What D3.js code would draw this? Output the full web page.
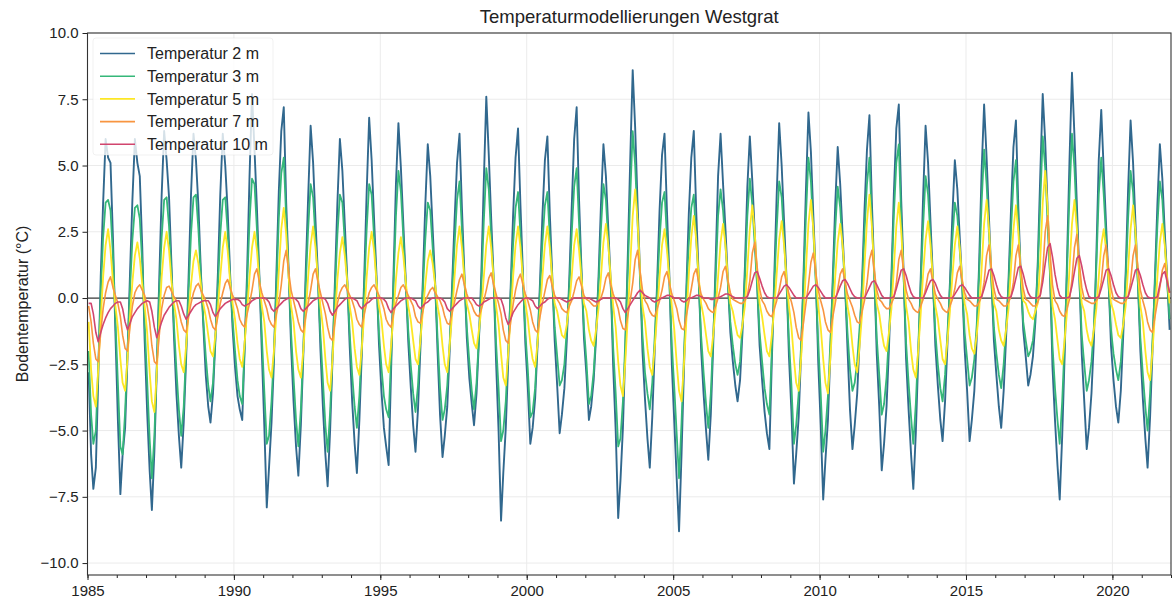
<!DOCTYPE html>
<html>
<head>
<meta charset="utf-8">
<script src="https://cdn.jsdelivr.net/npm/d3@7"></script>
<style>
  html, body { margin: 0; padding: 0; background: #ffffff; }
  svg { display: block; font-family: "Liberation Sans", Arial, Helvetica, sans-serif; }
</style>
</head>
<body>
<svg id="chart" width="1173" height="605"></svg>
<script>
// Monthly ground temperatures (°C), one row per year from 1985 to 2021, Jan..Dec.
const firstYear = 1985;

const temp2m = [
  -2.8, -5.9, -7.2, -6.4, -3.0, 0.8, 3.6, 6.0, 5.3, 5.1, 2.2, -1.3,   // 1985
  -4.6, -7.4, -5.9, -4.9, -2.2, 0.9, 3.7, 6.0, 5.1, 4.6, 1.9, -1.6,   // 1986
  -4.3, -6.5, -8.0, -5.8, -2.7, 0.7, 3.9, 6.3, 5.2, 3.8, 1.2, -1.4,   // 1987
  -3.6, -5.2, -6.4, -4.7, -2.3, 0.8, 3.9, 6.2, 5.2, 3.5, 1.0, -1.0,   // 1988
  -2.9, -4.1, -4.7, -3.6, -1.6, 0.9, 3.9, 6.2, 5.0, 3.3, 0.9, -1.1,   // 1989
  -2.6, -3.7, -4.2, -4.6, -1.9, 1.0, 4.6, 7.7, 5.6, 3.4, 0.8, -2.0,   // 1990
  -4.8, -7.9, -6.4, -4.7, -2.4, 0.9, 4.0, 6.3, 7.2, 3.6, 1.0, -1.8,   // 1991
  -3.9, -5.6, -6.7, -4.8, -2.2, 1.0, 3.8, 6.5, 5.1, 2.9, 0.8, -1.9,   // 1992
  -4.1, -5.9, -7.1, -5.0, -2.3, 0.7, 3.6, 6.0, 4.8, 2.8, 0.7, -1.8,   // 1993
  -3.9, -5.5, -6.6, -4.6, -2.1, 0.8, 4.0, 6.8, 5.2, 3.0, 0.8, -1.7,   // 1994
  -3.5, -4.9, -5.6, -6.3, -2.8, 0.9, 4.3, 6.6, 4.9, 2.8, 0.6, -1.6,   // 1995
  -3.3, -4.8, -5.8, -4.2, -1.9, 0.7, 3.5, 5.8, 4.6, 2.6, 0.6, -2.0,   // 1996
  -4.4, -6.0, -5.2, -4.1, -2.0, 0.5, 2.9, 5.1, 6.2, 3.4, 0.9, -1.5,   // 1997
  -3.0, -4.0, -4.8, -3.6, -1.6, 1.0, 4.4, 7.6, 5.4, 3.0, 0.7, -2.4,   // 1998
  -5.0, -8.4, -6.6, -4.9, -2.4, 0.4, 3.1, 5.3, 6.4, 3.5, 0.9, -1.7,   // 1999
  -3.4, -5.5, -4.9, -3.8, -1.8, 0.6, 3.1, 5.2, 6.1, 3.2, 0.8, -1.6,   // 2000
  -3.3, -5.1, -4.4, -3.4, -1.6, 0.7, 3.4, 6.0, 7.2, 3.7, 1.0, -1.5,   // 2001
  -2.9, -4.6, -4.1, -3.1, -1.5, 0.8, 3.5, 5.8, 4.6, 2.6, 0.5, -2.6,   // 2002
  -5.0, -8.3, -6.9, -4.9, -1.9, 1.6, 5.2, 8.6, 6.4, 3.5, 0.9, -2.0,   // 2003
  -3.8, -5.3, -6.4, -4.5, -2.0, 0.6, 3.3, 5.4, 6.2, 3.3, 0.8, -2.5,   // 2004
  -4.7, -6.9, -8.8, -5.9, -2.7, 0.4, 3.2, 5.3, 6.3, 3.3, 0.8, -1.9,   // 2005
  -3.6, -5.0, -6.1, -4.4, -1.8, 1.4, 4.6, 6.2, 4.3, 2.6, 0.6, -1.3,   // 2006
  -2.4, -3.3, -3.9, -3.1, -1.3, 1.2, 4.2, 6.1, 4.4, 2.5, 0.5, -1.8,   // 2007
  -3.1, -4.3, -5.1, -5.7, -2.4, 0.8, 3.9, 6.6, 5.0, 2.9, 0.7, -2.2,   // 2008
  -4.3, -7.0, -5.9, -4.5, -2.1, 0.9, 4.1, 7.0, 5.5, 3.1, 0.8, -2.4,   // 2009
  -4.8, -7.6, -6.1, -4.6, -2.1, 0.8, 3.5, 5.7, 4.3, 2.4, 0.5, -1.9,   // 2010
  -4.2, -5.7, -4.8, -3.6, -1.6, 0.6, 3.3, 5.6, 6.9, 3.6, 0.9, -2.1,   // 2011
  -4.1, -6.5, -5.5, -4.1, -1.9, 0.8, 3.9, 6.4, 7.3, 3.7, 0.9, -2.3,   // 2012
  -4.2, -5.9, -7.2, -5.1, -2.3, 0.7, 3.8, 6.5, 5.1, 2.9, 0.7, -1.8,   // 2013
  -3.3, -4.6, -5.4, -3.9, -1.7, 0.6, 3.1, 5.2, 4.1, 2.3, 0.5, -1.9,   // 2014
  -3.5, -5.4, -4.6, -3.5, -1.5, 1.4, 4.8, 7.3, 5.3, 3.0, 0.7, -1.6,   // 2015
  -2.9, -4.1, -4.9, -3.5, -1.5, 0.7, 3.3, 5.7, 6.7, 3.4, 0.8, -1.2,   // 2016
  -2.2, -3.3, -2.9, -2.2, -0.9, 1.4, 4.6, 7.7, 5.9, 3.4, 0.9, -2.6,   // 2017
  -4.6, -6.3, -7.6, -5.2, -2.2, 1.5, 5.2, 8.5, 6.1, 3.5, 0.9, -2.1,   // 2018
  -3.9, -5.7, -4.9, -3.6, -1.6, 1.6, 5.2, 7.1, 4.8, 2.7, 0.6, -1.8,   // 2019
  -3.1, -4.1, -4.7, -3.5, -1.4, 1.0, 4.1, 6.7, 5.1, 2.8, 0.6, -2.0,   // 2020
  -3.8, -5.3, -6.4, -4.5, -2.0, 0.8, 3.5, 5.8, 4.5, 2.5, 0.7, -1.2    // 2021
];

const temp3m = [
  -2.0, -4.4, -5.5, -5.0, -2.6, 0.2, 2.3, 3.6, 3.7, 3.3, 1.6, -0.8,   // 1985
  -3.2, -5.6, -5.9, -4.3, -2.0, 0.3, 2.2, 3.4, 3.5, 3.0, 1.3, -1.0,   // 1986
  -3.1, -5.3, -6.8, -5.2, -2.6, 0.2, 2.3, 3.7, 3.8, 2.7, 0.9, -1.0,   // 1987
  -2.7, -4.2, -5.2, -4.1, -2.0, 0.3, 2.4, 3.8, 3.9, 2.6, 0.8, -0.8,   // 1988
  -2.2, -3.3, -3.9, -3.2, -1.5, 0.4, 2.4, 3.7, 3.8, 2.5, 0.7, -0.8,   // 1989
  -2.0, -3.1, -3.7, -4.0, -1.8, 0.5, 2.9, 4.5, 4.3, 2.6, 0.7, -1.4,   // 1990
  -3.5, -5.5, -5.2, -3.9, -2.1, 0.4, 3.0, 4.7, 5.3, 3.0, 0.9, -1.3,   // 1991
  -3.0, -4.6, -5.6, -4.2, -2.0, 0.5, 2.6, 4.3, 3.8, 2.2, 0.6, -1.4,   // 1992
  -3.1, -4.8, -5.8, -4.3, -2.1, 0.3, 2.4, 3.9, 3.6, 2.1, 0.6, -1.3,   // 1993
  -2.9, -4.1, -4.9, -3.7, -1.8, 0.4, 2.6, 4.3, 3.9, 2.3, 0.6, -1.3,   // 1994
  -2.6, -3.7, -4.2, -4.5, -2.3, 0.5, 3.1, 4.8, 4.0, 2.3, 0.5, -1.2,   // 1995
  -2.5, -3.6, -4.3, -3.3, -1.6, 0.3, 2.2, 3.6, 3.3, 1.9, 0.5, -1.5,   // 1996
  -3.4, -4.6, -4.2, -3.3, -1.7, 0.2, 2.0, 3.7, 4.4, 2.6, 0.7, -1.1,   // 1997
  -2.4, -3.5, -4.2, -3.2, -1.5, 0.5, 2.9, 4.9, 4.1, 2.3, 0.6, -1.7,   // 1998
  -3.4, -5.4, -5.0, -3.9, -2.0, 0.2, 2.0, 3.4, 4.0, 2.4, 0.7, -1.3,   // 1999
  -2.7, -4.5, -4.3, -3.4, -1.6, 0.3, 2.1, 3.5, 4.0, 2.3, 0.6, -1.1,   // 2000
  -2.2, -3.3, -3.1, -2.5, -1.2, 0.4, 2.4, 4.2, 4.9, 2.8, 0.8, -1.1,   // 2001
  -2.4, -4.0, -3.7, -2.8, -1.3, 0.5, 2.6, 4.3, 3.7, 2.1, 0.4, -1.9,   // 2002
  -3.6, -5.6, -5.3, -3.9, -1.6, 1.0, 3.8, 6.3, 5.0, 2.8, 0.7, -1.4,   // 2003
  -2.8, -3.6, -4.2, -3.2, -1.5, 0.3, 2.2, 3.6, 4.0, 2.3, 0.6, -1.8,   // 2004
  -3.4, -5.2, -6.8, -4.7, -2.2, 0.2, 2.1, 3.4, 3.9, 2.2, 0.6, -1.4,   // 2005
  -2.8, -4.0, -4.9, -3.6, -1.5, 0.8, 3.1, 4.1, 3.3, 2.0, 0.5, -0.9,   // 2006
  -1.8, -2.5, -2.9, -2.4, -1.0, 0.8, 3.1, 4.5, 3.5, 2.0, 0.4, -1.3,   // 2007
  -2.4, -3.4, -4.0, -4.4, -2.0, 0.5, 2.6, 4.4, 3.8, 2.2, 0.5, -1.6,   // 2008
  -3.3, -5.5, -4.8, -3.6, -1.8, 0.6, 3.1, 5.3, 4.4, 2.5, 0.6, -1.7,   // 2009
  -3.6, -5.8, -5.0, -3.7, -1.7, 0.5, 2.6, 4.2, 3.4, 1.9, 0.4, -1.3,   // 2010
  -2.7, -3.5, -3.2, -2.4, -1.1, 0.4, 2.5, 4.3, 5.3, 2.9, 0.7, -1.5,   // 2011
  -2.9, -4.4, -4.0, -3.0, -1.4, 0.6, 3.1, 5.1, 5.8, 3.0, 0.7, -1.7,   // 2012
  -3.2, -4.5, -5.5, -4.0, -1.9, 0.5, 2.7, 4.6, 3.9, 2.3, 0.5, -1.3,   // 2013
  -2.5, -3.4, -3.9, -2.9, -1.3, 0.4, 2.2, 3.6, 3.1, 1.8, 0.4, -1.3,   // 2014
  -2.3, -3.3, -3.0, -2.3, -1.0, 1.0, 3.6, 5.6, 4.3, 2.4, 0.6, -1.1,   // 2015
  -2.1, -2.9, -3.4, -2.5, -1.1, 0.5, 2.5, 4.4, 5.2, 2.8, 0.7, -0.9,   // 2016
  -1.6, -2.2, -2.0, -1.6, -0.7, 1.1, 3.6, 6.1, 4.9, 2.8, 0.8, -1.8,   // 2017
  -3.4, -4.6, -5.5, -3.9, -1.7, 1.1, 3.9, 6.2, 4.9, 2.8, 0.7, -1.4,   // 2018
  -2.5, -3.5, -3.1, -2.4, -1.1, 1.2, 3.9, 5.3, 3.9, 2.2, 0.5, -1.2,   // 2019
  -2.1, -2.7, -3.1, -2.4, -1.0, 0.7, 3.0, 4.8, 4.0, 2.2, 0.5, -1.5,   // 2020
  -2.9, -4.1, -5.0, -3.6, -1.6, 0.6, 2.7, 4.4, 3.7, 2.1, 0.6, -0.8    // 2021
];

const temp5m = [
  -0.9, -2.7, -3.7, -4.1, -2.7, -0.8, 0.8, 2.0, 2.6, 1.8, 0.6, -0.3,   // 1985
  -1.1, -2.3, -3.2, -3.5, -2.3, -0.7, 0.6, 1.6, 2.1, 1.5, 0.5, -0.3,   // 1986
  -1.3, -2.8, -3.9, -4.3, -2.8, -0.9, 0.8, 1.9, 2.5, 1.8, 0.6, -0.2,   // 1987
  -0.8, -1.8, -2.5, -2.8, -1.8, -0.6, 0.5, 1.4, 1.8, 1.3, 0.5, -0.2,   // 1988
  -0.7, -1.4, -2.0, -2.2, -1.4, -0.4, 0.8, 1.9, 2.5, 1.8, 0.6, -0.2,   // 1989
  -0.8, -1.7, -2.3, -2.6, -1.7, -0.5, 0.8, 1.9, 2.5, 1.8, 0.6, -0.3,   // 1990
  -0.9, -2.0, -2.7, -3.0, -2.0, -0.6, 1.0, 2.6, 3.4, 2.4, 0.8, -0.3,   // 1991
  -0.9, -2.0, -2.7, -3.0, -2.0, -0.6, 0.8, 2.0, 2.7, 1.9, 0.7, -0.3,   // 1992
  -1.1, -2.3, -3.2, -3.5, -2.3, -0.7, 0.7, 1.7, 2.3, 1.6, 0.6, -0.3,   // 1993
  -0.9, -1.9, -2.6, -2.9, -1.9, -0.6, 0.8, 1.9, 2.5, 1.8, 0.6, -0.3,   // 1994
  -0.8, -1.8, -2.5, -2.8, -1.8, -0.6, 0.7, 1.7, 2.3, 1.6, 0.6, -0.3,   // 1995
  -0.8, -1.6, -2.3, -2.5, -1.6, -0.5, 0.5, 1.4, 1.8, 1.3, 0.5, -0.3,   // 1996
  -0.8, -1.8, -2.5, -2.8, -1.8, -0.6, 0.8, 2.0, 2.7, 1.9, 0.7, -0.2,   // 1997
  -0.6, -1.2, -1.7, -1.9, -1.2, -0.4, 0.8, 2.0, 2.7, 1.9, 0.7, -0.3,   // 1998
  -1.0, -2.1, -3.0, -3.3, -2.1, -0.7, 0.8, 2.0, 2.7, 1.9, 0.7, -0.2,   // 1999
  -0.8, -1.7, -2.3, -2.6, -1.7, -0.5, 0.8, 2.0, 2.7, 1.9, 0.7, -0.2,   // 2000
  -0.5, -1.0, -1.4, -1.5, -1.0, -0.3, 0.8, 2.0, 2.6, 1.8, 0.7, -0.2,   // 2001
  -0.5, -1.2, -1.6, -1.8, -1.2, -0.4, 0.8, 2.1, 2.8, 2.0, 0.7, -0.3,   // 2002
  -1.1, -2.4, -3.3, -3.7, -2.4, -0.7, 1.2, 3.1, 4.1, 2.9, 1.0, -0.3,   // 2003
  -0.9, -1.9, -2.6, -2.9, -1.9, -0.6, 0.8, 2.0, 2.6, 1.8, 0.7, -0.3,   // 2004
  -1.2, -2.5, -3.5, -3.9, -2.5, -0.8, 0.9, 2.3, 3.1, 2.2, 0.8, -0.2,   // 2005
  -0.7, -1.4, -2.0, -2.2, -1.4, -0.4, 0.8, 2.1, 2.8, 2.0, 0.7, -0.2,   // 2006
  -0.5, -1.0, -1.4, -1.5, -1.0, -0.3, 1.1, 2.6, 3.5, 2.5, 0.9, -0.2,   // 2007
  -0.7, -1.4, -2.0, -2.2, -1.4, -0.4, 0.9, 2.2, 2.9, 2.0, 0.7, -0.3,   // 2008
  -1.1, -2.3, -3.2, -3.5, -2.3, -0.7, 1.1, 2.8, 3.7, 2.6, 0.9, -0.3,   // 2009
  -1.1, -2.3, -3.2, -3.6, -2.3, -0.7, 0.8, 2.1, 2.8, 2.0, 0.7, -0.3,   // 2010
  -0.8, -1.8, -2.5, -2.8, -1.8, -0.6, 1.2, 2.9, 3.9, 2.7, 1.0, -0.2,   // 2011
  -0.6, -1.3, -1.8, -2.0, -1.3, -0.4, 1.1, 2.7, 3.6, 2.5, 0.9, -0.3,   // 2012
  -0.9, -2.0, -2.7, -3.0, -2.0, -0.6, 0.9, 2.2, 2.9, 2.0, 0.7, -0.3,   // 2013
  -0.8, -1.6, -2.3, -2.5, -1.6, -0.5, 0.8, 2.0, 2.7, 1.9, 0.7, -0.2,   // 2014
  -0.6, -1.4, -1.9, -2.1, -1.4, -0.4, 1.1, 2.8, 3.7, 2.6, 0.9, -0.2,   // 2015
  -0.5, -1.2, -1.6, -1.8, -1.2, -0.4, 1.1, 2.6, 3.5, 2.5, 0.9, -0.1,   // 2016
  -0.2, -0.5, -0.7, -0.8, -0.5, -0.2, 1.4, 3.6, 4.8, 3.4, 1.2, -0.3,   // 2017
  -0.8, -1.6, -2.3, -2.5, -1.6, -0.5, 1.1, 2.8, 3.7, 2.6, 0.9, -0.2,   // 2018
  -0.5, -1.2, -1.6, -1.8, -1.2, -0.4, 0.8, 2.0, 2.6, 1.8, 0.7, -0.2,   // 2019
  -0.5, -1.0, -1.4, -1.5, -1.0, -0.3, 1.1, 2.6, 3.5, 2.5, 0.9, -0.3,   // 2020
  -0.9, -2.0, -2.8, -3.1, -2.0, -0.6, 0.8, 2.1, 2.8, 2.0, 0.7, -0.2    // 2021
];

const temp7m = [
  -0.3, -0.9, -1.7, -2.3, -2.4, -1.3, -0.4, 0.2, 0.6, 0.8, 0.4, 0.1,          // 1985
  -0.2, -0.7, -1.4, -1.9, -2.0, -1.1, -0.3, 0.2, 0.4, 0.5, 0.3, 0.1,          // 1986
  -0.3, -0.9, -1.8, -2.4, -2.5, -1.4, -0.4, 0.1, 0.4, 0.45, 0.25, 0.05,       // 1987
  -0.1, -0.5, -0.9, -1.2, -1.3, -0.7, -0.2, 0.2, 0.45, 0.55, 0.3, 0.1,        // 1988
  -0.1, -0.4, -0.8, -1.1, -1.2, -0.7, -0.2, 0.2, 0.55, 0.7, 0.4, 0.1,         // 1989
  -0.1, -0.4, -0.8, -1.0, -1.1, -0.6, -0.2, 0.3, 0.9, 1.1, 0.6, 0.2,          // 1990
  -0.1, -0.4, -0.8, -1.0, -1.1, -0.6, -0.2, 0.5, 1.4, 1.8, 1.0, 0.3,          // 1991
  -0.1, -0.5, -0.9, -1.2, -1.3, -0.7, -0.2, 0.3, 0.9, 1.1, 0.6, 0.2,          // 1992
  -0.2, -0.6, -1.1, -1.5, -1.6, -0.9, -0.2, 0.2, 0.4, 0.5, 0.3, 0.1,          // 1993
  -0.1, -0.4, -0.8, -1.0, -1.1, -0.6, -0.2, 0.2, 0.4, 0.5, 0.3, 0.1,          // 1994
  -0.1, -0.4, -0.8, -1.0, -1.1, -0.6, -0.2, 0.1, 0.4, 0.5, 0.3, 0.1,          // 1995
  -0.1, -0.3, -0.7, -0.9, -0.95, -0.5, -0.1, 0.1, 0.3, 0.4, 0.2, 0.05,        // 1996
  -0.1, -0.35, -0.7, -0.95, -1.0, -0.55, -0.15, 0.3, 0.7, 0.9, 0.5, 0.15,     // 1997
  -0.1, -0.25, -0.5, -0.65, -0.7, -0.4, -0.1, 0.3, 0.75, 0.95, 0.5, 0.15,     // 1998
  -0.2, -0.6, -1.2, -1.6, -1.7, -0.9, -0.25, 0.3, 0.7, 0.9, 0.5, 0.15,        // 1999
  -0.1, -0.45, -0.9, -1.2, -1.3, -0.7, -0.2, 0.25, 0.7, 0.85, 0.45, 0.1,      // 2000
  -0.05, -0.2, -0.4, -0.5, -0.55, -0.3, -0.1, 0.25, 0.65, 0.8, 0.45, 0.1,     // 2001
  -0.05, -0.1, -0.2, -0.3, -0.3, -0.15, 0.0, 0.3, 0.75, 0.95, 0.5, 0.15,      // 2002
  -0.1, -0.4, -0.85, -1.15, -1.2, -0.65, -0.1, 0.55, 1.45, 1.8, 1.0, 0.3,     // 2003
  -0.1, -0.25, -0.5, -0.65, -0.7, -0.4, -0.1, 0.3, 0.8, 1.0, 0.55, 0.15,      // 2004
  -0.1, -0.4, -0.85, -1.15, -1.2, -0.65, -0.15, 0.35, 0.9, 1.1, 0.6, 0.15,    // 2005
  -0.05, -0.2, -0.4, -0.5, -0.55, -0.3, 0.0, 0.4, 1.0, 1.2, 0.65, 0.2,        // 2006
  -0.05, -0.1, -0.15, -0.2, -0.2, -0.1, 0.1, 0.65, 1.7, 2.1, 1.15, 0.35,      // 2007
  -0.1, -0.25, -0.5, -0.65, -0.7, -0.4, -0.1, 0.3, 0.8, 1.0, 0.55, 0.15,      // 2008
  -0.15, -0.55, -1.1, -1.5, -1.6, -0.9, -0.2, 0.5, 1.35, 1.7, 0.95, 0.3,      // 2009
  -0.1, -0.45, -0.9, -1.2, -1.3, -0.7, -0.2, 0.35, 0.9, 1.1, 0.6, 0.15,       // 2010
  -0.1, -0.35, -0.65, -0.9, -0.95, -0.5, -0.1, 0.55, 1.45, 1.8, 1.0, 0.3,     // 2011
  -0.05, -0.15, -0.3, -0.4, -0.4, -0.2, 0.0, 0.55, 1.45, 1.8, 1.0, 0.3,       // 2012
  -0.05, -0.2, -0.4, -0.5, -0.55, -0.3, -0.05, 0.35, 0.9, 1.1, 0.6, 0.15,     // 2013
  -0.05, -0.2, -0.4, -0.5, -0.55, -0.3, -0.05, 0.35, 0.95, 1.2, 0.65, 0.2,    // 2014
  -0.05, -0.1, -0.2, -0.3, -0.3, -0.15, 0.05, 0.6, 1.6, 2.0, 1.1, 0.35,       // 2015
  -0.05, -0.1, -0.2, -0.3, -0.3, -0.15, 0.05, 0.6, 1.6, 2.0, 1.1, 0.35,       // 2016
  -0.05, -0.1, -0.2, -0.3, -0.3, -0.15, 0.1, 0.95, 2.5, 3.1, 1.7, 0.5,        // 2017
  -0.1, -0.25, -0.5, -0.65, -0.7, -0.4, -0.05, 0.7, 1.9, 2.4, 1.3, 0.4,       // 2018
  -0.05, -0.1, -0.15, -0.2, -0.2, -0.1, 0.05, 0.6, 1.6, 2.0, 1.1, 0.35,       // 2019
  -0.05, -0.1, -0.15, -0.2, -0.2, -0.1, 0.05, 0.6, 1.6, 2.0, 1.1, 0.3,        // 2020
  -0.1, -0.45, -0.9, -1.2, -1.3, -0.7, -0.15, 0.4, 1.05, 1.3, 0.7, 0.2        // 2021
];

const temp10m = [
  -0.2, -0.2, -0.6, -1.3, -1.65, -1.3, -1.0, -0.75, -0.55, -0.4, -0.3, -0.2,       // 1985
  -0.15, -0.15, -0.4, -0.9, -1.2, -0.95, -0.7, -0.55, -0.4, -0.3, -0.2, -0.15,     // 1986
  -0.1, -0.15, -0.5, -1.1, -1.5, -1.2, -0.9, -0.65, -0.5, -0.35, -0.25, -0.15,     // 1987
  -0.1, -0.1, -0.3, -0.6, -0.8, -0.65, -0.5, -0.35, -0.25, -0.2, -0.15, -0.1,      // 1988
  -0.1, -0.1, -0.25, -0.55, -0.7, -0.55, -0.4, -0.3, -0.2, -0.15, -0.1, -0.05,     // 1989
  -0.05, -0.05, -0.1, -0.25, -0.3, -0.25, -0.2, -0.1, -0.05, 0, 0, 0,              // 1990
  0, -0.05, -0.15, -0.4, -0.5, -0.4, -0.3, -0.2, -0.1, -0.05, 0, 0,                // 1991
  0, -0.05, -0.15, -0.4, -0.5, -0.4, -0.3, -0.2, -0.1, -0.05, 0, 0,                // 1992
  0, -0.05, -0.2, -0.5, -0.65, -0.5, -0.35, -0.25, -0.15, -0.05, 0, 0,             // 1993
  0, -0.05, -0.1, -0.3, -0.4, -0.3, -0.2, -0.15, -0.05, 0, 0, 0,                   // 1994
  0, -0.05, -0.15, -0.4, -0.55, -0.4, -0.3, -0.2, -0.1, -0.05, 0, 0,               // 1995
  0, -0.05, -0.1, -0.3, -0.4, -0.3, -0.2, -0.15, -0.05, 0, 0, 0,                   // 1996
  0, -0.05, -0.15, -0.4, -0.5, -0.4, -0.3, -0.2, -0.1, -0.05, 0, 0,                // 1997
  0, 0, -0.1, -0.25, -0.3, -0.25, -0.15, -0.1, -0.05, 0, 0, 0,                     // 1998
  0, -0.05, -0.3, -0.75, -1.0, -0.8, -0.55, -0.4, -0.25, -0.15, -0.05, 0,          // 1999
  0, -0.05, -0.1, -0.3, -0.4, -0.3, -0.2, -0.15, -0.05, 0, 0, 0,                   // 2000
  0, 0, -0.05, -0.1, -0.15, -0.1, -0.05, 0, 0, 0, 0, 0,                            // 2001
  0, 0, -0.05, -0.1, -0.15, -0.1, -0.05, 0, 0, 0, 0, 0,                            // 2002
  0, -0.05, -0.15, -0.4, -0.55, -0.4, -0.25, -0.1, 0.05, 0.2, 0.3, 0.2,            // 2003
  0.1, 0.05, 0, -0.1, -0.15, -0.1, -0.05, 0, 0.05, 0.1, 0.1, 0.05,                 // 2004
  0, 0, 0, -0.1, -0.15, -0.1, 0, 0, 0.05, 0.1, 0.1, 0.05,                          // 2005
  0, 0, 0, -0.05, -0.05, 0, 0, 0.05, 0.1, 0.15, 0.15, 0.1,                         // 2006
  0.05, 0, 0, 0, 0, 0, 0.05, 0.3, 0.65, 0.95, 1.0, 0.75,                           // 2007
  0.45, 0.2, 0.05, 0, 0, 0, 0, 0.15, 0.3, 0.45, 0.5, 0.4,                          // 2008
  0.25, 0.1, 0, 0, 0, 0, 0, 0.15, 0.3, 0.45, 0.5, 0.4,                             // 2009
  0.25, 0.1, 0, 0, 0, 0, 0, 0.2, 0.45, 0.65, 0.7, 0.55,                            // 2010
  0.35, 0.15, 0.05, 0, 0, 0, 0, 0.2, 0.4, 0.6, 0.65, 0.5,                          // 2011
  0.3, 0.1, 0, 0, 0, 0, 0.05, 0.35, 0.7, 1.05, 1.1, 0.85,                          // 2012
  0.5, 0.2, 0.05, 0, 0, 0, 0, 0.2, 0.45, 0.65, 0.7, 0.55,                          // 2013
  0.3, 0.1, 0, 0, 0, 0, 0, 0.15, 0.3, 0.45, 0.5, 0.4,                              // 2014
  0.25, 0.1, 0, 0, 0, 0, 0.05, 0.35, 0.7, 1.05, 1.1, 0.85,                         // 2015
  0.5, 0.2, 0.05, 0, 0, 0, 0.05, 0.35, 0.75, 1.15, 1.2, 0.9,                       // 2016
  0.5, 0.2, 0.05, 0, 0, 0, 0.1, 0.6, 1.3, 1.9, 2.05, 1.55,                         // 2017
  0.9, 0.4, 0.1, 0, 0, 0, 0.05, 0.45, 1.0, 1.5, 1.6, 1.2,                          // 2018
  0.7, 0.3, 0.05, 0, 0, 0, 0.05, 0.35, 0.7, 1.05, 1.1, 0.85,                       // 2019
  0.5, 0.2, 0.05, 0, 0, 0, 0.05, 0.35, 0.7, 1.05, 1.1, 0.85,                       // 2020
  0.5, 0.2, 0.05, 0, 0, 0, 0.05, 0.5, 0.9, 1.0, 0.6, 0.2                           // 2021
];

const seriesNames = ["Temperatur 2 m", "Temperatur 3 m", "Temperatur 5 m", "Temperatur 7 m", "Temperatur 10 m"];
const seriesValues = [temp2m, temp3m, temp5m, temp7m, temp10m];
const seriesColors = ["#31688e", "#35b779", "#fde725", "#f89540", "#d1456e"];
const seriesWidths = [1.9, 1.8, 1.8, 1.6, 1.6];

const yTickValues = [-10, -7.5, -5, -2.5, 0, 2.5, 5, 7.5, 10];
const xTickYears = [1985, 1990, 1995, 2000, 2005, 2010, 2015, 2020];

const chartTitle = "Temperaturmodellierungen Westgrat";
const yAxisLabel = "Bodentemperatur (°C)";

// ---- layout ----
const plot = { left: 87.5, right: 1171, top: 33, bottom: 575 };

const svg = d3.select("#chart");

const x = d3.scaleTime()
  .domain([new Date(1985, 0, 1), new Date(2022, 0, 1)])
  .range([plot.left, plot.right]);

const y = d3.scaleLinear()
  .domain([-10.45, 10])
  .range([plot.bottom, plot.top]);

// month index -> mid-month date
const dateAt = i => new Date(firstYear + Math.floor(i / 12), i % 12, 15);

// ---- grid ----
const grid = svg.append("g").attr("class", "grid");
grid.selectAll("line.gy").data(yTickValues).join("line")
  .attr("x1", plot.left).attr("x2", plot.right)
  .attr("y1", d => y(d)).attr("y2", d => y(d))
  .attr("stroke", "#ebebeb").attr("stroke-width", 1);
grid.selectAll("line.gx").data(xTickYears).join("line")
  .attr("x1", d => x(new Date(d, 0, 1))).attr("x2", d => x(new Date(d, 0, 1)))
  .attr("y1", plot.top).attr("y2", plot.bottom)
  .attr("stroke", "#ebebeb").attr("stroke-width", 1);

// ---- clip ----
svg.append("defs").append("clipPath").attr("id", "plotclip")
  .append("rect")
  .attr("x", plot.left).attr("y", plot.top)
  .attr("width", plot.right - plot.left).attr("height", plot.bottom - plot.top);

const lines = svg.append("g").attr("clip-path", "url(#plotclip)");

// zero reference line
lines.append("line")
  .attr("x1", plot.left).attr("x2", plot.right)
  .attr("y1", y(0)).attr("y2", y(0))
  .attr("stroke", "#3c3c3c").attr("stroke-width", 1.3);

const lineGen = d3.line()
  .x((d, i) => x(dateAt(i)))
  .y(d => y(d));

seriesValues.forEach((vals, k) => {
  lines.append("path")
    .datum(vals)
    .attr("d", lineGen)
    .attr("fill", "none")
    .attr("stroke", seriesColors[k])
    .attr("stroke-width", seriesWidths[k])
    .attr("stroke-linejoin", "round");
});

// ---- axes ----
const axisColor = "#222";

const yAxis = svg.append("g")
  .attr("transform", `translate(${plot.left},0)`)
  .call(d3.axisLeft(y).tickValues(yTickValues).tickFormat(d3.format(".1f")).tickSize(5).tickPadding(4));
yAxis.select(".domain").remove();
yAxis.selectAll("text").attr("font-size", 15).attr("fill", "#222");
yAxis.selectAll("line").attr("stroke", axisColor);

const xAxis = svg.append("g")
  .attr("transform", `translate(0,${plot.bottom})`)
  .call(d3.axisBottom(x)
    .tickValues(xTickYears.map(yr => new Date(yr, 0, 1)))
    .tickFormat(d3.timeFormat("%Y")).tickSize(5).tickPadding(5));
xAxis.select(".domain").remove();
xAxis.selectAll("text").attr("font-size", 15).attr("fill", "#222");
xAxis.selectAll("line").attr("stroke", axisColor);

// minor yearly ticks
const minor = svg.append("g")
  .attr("transform", `translate(0,${plot.bottom})`)
  .call(d3.axisBottom(x).ticks(d3.timeYear.every(1)).tickFormat("").tickSize(3));
minor.select(".domain").remove();
minor.selectAll("line").attr("stroke", axisColor);

// frame
svg.append("rect")
  .attr("x", plot.left).attr("y", plot.top)
  .attr("width", plot.right - plot.left).attr("height", plot.bottom - plot.top)
  .attr("fill", "none").attr("stroke", "#333").attr("stroke-width", 1.1);

// ---- title & axis label ----
svg.append("text")
  .attr("x", (plot.left + plot.right) / 2).attr("y", 23)
  .attr("text-anchor", "middle").attr("font-size", 18.5).attr("fill", "#222")
  .text(chartTitle);

svg.append("text")
  .attr("transform", `translate(22,${(plot.top + plot.bottom) / 2}) rotate(-90)`)
  .attr("text-anchor", "middle").attr("dominant-baseline", "central")
  .attr("font-size", 16).attr("fill", "#222")
  .text(yAxisLabel);

// ---- legend ----
const legend = svg.append("g").attr("transform", "translate(93,38)");
legend.append("rect")
  .attr("x", 0).attr("y", 0).attr("width", 180).attr("height", 117)
  .attr("rx", 3)
  .attr("fill", "#ffffff").attr("fill-opacity", 0.8)
  .attr("stroke", "#dddddd").attr("stroke-opacity", 0.4);

const rowH = 22.7;
seriesNames.forEach((name, k) => {
  const cy = 15.5 + k * rowH;
  legend.append("line")
    .attr("x1", 7).attr("x2", 42).attr("y1", cy).attr("y2", cy)
    .attr("stroke", seriesColors[k]).attr("stroke-width", 1.6);
  legend.append("text")
    .attr("x", 54).attr("y", cy).attr("dy", "0.35em")
    .attr("font-size", 16).attr("fill", "#222")
    .text(name);
});
</script>
</body>
</html>
